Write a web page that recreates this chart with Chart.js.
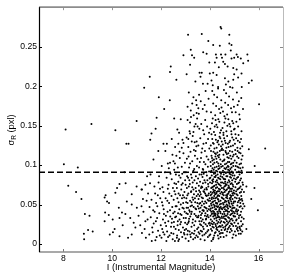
<!DOCTYPE html>
<html>
<head>
<meta charset="utf-8">
<script src="https://cdn.jsdelivr.net/npm/chart.js@4.4.1/dist/chart.umd.min.js"></script>
<style>
  html, body { margin: 0; padding: 0; background: #fff; }
  canvas { display: block; }
</style>
</head>
<body>
<canvas id="myChart" width="287" height="276"></canvas>
<script>
// axis ticks and labels
let xTicks = [8, 10, 12, 14, 16];
let xTickLabels = ['8', '10', '12', '14', '16'];
let yTicks = [0, 0.05, 0.1, 0.15, 0.2, 0.25];
let yTickLabels = ['0', '0.05', '0.1', '0.15', '0.2', '0.25'];
let sigmaCut = 0.091;

// stars as flat [mag, sigma, mag, sigma, ...] lists
let brightStars = [
  8.09,.145, 9.15,.152, 10.13,.144, 11.0,.156, 8.02,.101, 8.59,.097, 8.2,.074, 8.52,.066, 8.74,.057, 8.88,.038,
  9.07,.036, 8.84,.013, 8.85,.006, 9.01,.018, 9.2,.016, 10.58,.127, 10.67,.127, 10.5,.091, 9.69,.059, 9.73,.062,
  9.79,.054, 9.71,.04, 9.87,.052, 10.13,.065, 10.2,.071, 10.3,.076, 10.55,.077, 10.6,.054, 10.8,.063, 11.0,.073,
  11.2,.069, 9.9,.012, 10.03,.015, 10.1,.019, 10.3,.01, 10.4,.04, 10.3,.033, 10.54,.038, 10.74,.033, 10.88,.027,
  11.08,.036, 10.95,.021, 11.15,.024, 10.65,.008, 10.8,.012, 11.22,.014, 10.27,.046, 10.02,.031, 10.43,.024, 9.69,.029,
  9.86,.037, 11.01,.046, 10.8,.05, 11.2,.048, 11.36,.075, 11.22,.069, 11.28,.041, 11.33,.019, 11.41,.055, 11.45,.031,
  11.38,.008, 11.47,.064, 11.26,.057, 11.43,.086, 11.36,.029,
  11.52,.012, 11.58,.034, 11.61,.056, 11.55,.077, 11.64,.021, 11.68,.043, 11.69,.107, 11.73,.073, 11.76,.064, 11.79,.029,
  11.82,.009, 11.85,.048, 11.88,.017, 11.9,.078, 11.93,.039, 11.97,.058, 11.62,.004, 11.7,.026, 11.84,.033, 11.95,.011,
  11.57,.088, 11.8,.052, 11.66,.015, 11.92,.086, 11.99,.024, 11.74,.041, 11.87,.062, 11.53,.047, 11.77,.005, 11.96,.07,
  11.89,.118
];

let band12 = [
  12.03,.099, 12.37,.103, 12.28,.102, 12.1,.066, 12.28,.07, 12.44,.082,
  12.02,.008, 12.05,.019, 12.08,.031, 12.11,.044, 12.04,.053, 12.14,.012, 12.17,.027, 12.2,.036, 12.06,.072, 12.19,.058,
  12.22,.004, 12.25,.016, 12.27,.041, 12.3,.029, 12.23,.084, 12.33,.052, 12.35,.011, 12.38,.035, 12.41,.022, 12.43,.061,
  12.46,.047, 12.48,.006, 12.31,.075, 12.16,.091, 12.39,.089, 12.47,.113, 12.12,.038, 12.21,.023, 12.34,.064, 12.45,.032,
  12.09,.015, 12.26,.055, 12.42,.014, 12.49,.071, 12.18,.118, 12.32,.096, 12.07,.049, 12.29,.009, 12.37,.043, 12.44,.027,
  12.51,.105, 12.55,.077, 12.71,.079,
  12.51,.013, 12.53,.028, 12.56,.041, 12.52,.056, 12.57,.004, 12.6,.019, 12.62,.035, 12.59,.063, 12.64,.048, 12.61,.088,
  12.66,.011, 12.68,.024, 12.65,.071, 12.7,.039, 12.72,.053, 12.69,.097, 12.74,.006, 12.76,.031, 12.73,.018, 12.78,.062,
  12.75,.044, 12.8,.084, 12.77,.109, 12.82,.015, 12.84,.037, 12.79,.025, 12.86,.058, 12.83,.069, 12.88,.046, 12.87,.009,
  12.9,.021, 12.89,.077, 12.93,.033, 12.91,.052, 12.95,.091, 12.94,.014, 12.97,.041, 12.96,.066, 12.99,.027, 12.98,.103,
  12.54,.094, 12.63,.112, 12.67,.058, 12.71,.004, 12.58,.034, 12.85,.098, 12.92,.115, 12.55,.067, 12.81,.05, 12.62,.076,
  12.88,.132, 12.67,.145, 12.95,.059, 12.74,.087, 12.6,.048, 12.79,.038, 12.97,.018, 12.53,.022, 12.84,.075, 12.69,.029,
  12.9,.062, 12.57,.102, 12.76,.117, 12.99,.081, 12.65,.008, 12.93,.045, 12.82,.028, 12.72,.064, 12.87,.089, 12.5,.039,
  12.96,.012
];

let band13 = [
  13.01,.007, 13.03,.019, 13.02,.033, 13.05,.046, 13.04,.058, 13.06,.071, 13.08,.012, 13.07,.025, 13.1,.038, 13.09,.052,
  13.11,.084, 13.13,.004, 13.12,.064, 13.14,.029, 13.16,.043, 13.15,.097, 13.17,.016, 13.19,.055, 13.18,.076, 13.2,.035,
  13.22,.009, 13.21,.048, 13.23,.088, 13.25,.022, 13.24,.067, 13.26,.041, 13.28,.105, 13.27,.014, 13.29,.059, 13.31,.031,
  13.3,.078, 13.32,.006, 13.34,.047, 13.33,.093, 13.36,.024, 13.35,.063, 13.37,.038, 13.39,.112, 13.38,.017, 13.4,.053,
  13.42,.071, 13.41,.029, 13.43,.086, 13.45,.011, 13.44,.044, 13.46,.061, 13.48,.034, 13.47,.099, 13.49,.052, 13.02,.091,
  13.06,.108, 13.1,.017, 13.14,.073, 13.18,.041, 13.21,.117, 13.25,.053, 13.29,.027, 13.33,.069, 13.37,.081, 13.41,.045,
  13.45,.124, 13.04,.039, 13.08,.062, 13.12,.027, 13.16,.081, 13.2,.012, 13.24,.038, 13.28,.072, 13.32,.056, 13.36,.095,
  13.4,.008, 13.44,.067, 13.48,.019, 13.03,.053, 13.07,.086, 13.11,.046, 13.15,.032, 13.19,.102, 13.23,.066, 13.27,.049,
  13.31,.091, 13.35,.013, 13.39,.058, 13.43,.036, 13.47,.077, 13.49,.108, 13.01,.075, 13.13,.111, 13.26,.084, 13.38,.129,
  13.05,.135, 13.17,.143, 13.3,.137, 13.42,.118, 13.09,.157, 13.22,.169, 13.34,.163, 13.44,.182, 13.14,.192, 13.28,.178,
  13.48,.159,
  13.51,.009, 13.53,.021, 13.52,.034, 13.55,.045, 13.54,.057, 13.56,.068, 13.58,.013, 13.57,.029, 13.59,.041, 13.61,.052,
  13.6,.079, 13.62,.006, 13.63,.063, 13.65,.024, 13.64,.037, 13.66,.088, 13.68,.016, 13.67,.049, 13.69,.072, 13.71,.031,
  13.7,.011, 13.72,.058, 13.74,.043, 13.73,.094, 13.75,.019, 13.77,.066, 13.76,.027, 13.78,.081, 13.8,.036, 13.79,.005,
  13.81,.054, 13.83,.046, 13.82,.101, 13.84,.014, 13.86,.071, 13.85,.032, 13.87,.061, 13.89,.023, 13.88,.087, 13.9,.042,
  13.92,.009, 13.91,.056, 13.93,.076, 13.95,.034, 13.94,.018, 13.96,.064, 13.98,.048, 13.97,.092, 13.99,.027, 13.52,.083,
  13.56,.097, 13.6,.025, 13.64,.109, 13.68,.039, 13.72,.077, 13.76,.051, 13.8,.118, 13.84,.062, 13.88,.035, 13.92,.098,
  13.96,.044, 13.54,.015, 13.58,.061, 13.62,.046, 13.66,.029, 13.7,.085, 13.74,.067, 13.78,.012, 13.82,.039, 13.86,.052,
  13.9,.081, 13.94,.073, 13.98,.011, 13.51,.048, 13.55,.074, 13.59,.104, 13.63,.033, 13.67,.059, 13.71,.095, 13.75,.042,
  13.79,.069, 13.83,.025, 13.87,.111, 13.91,.037, 13.95,.055, 13.99,.083, 13.53,.125, 13.61,.134, 13.69,.121, 13.77,.139,
  13.85,.128, 13.93,.133, 13.57,.146, 13.65,.152, 13.73,.144, 13.81,.157, 13.89,.149, 13.97,.141, 13.55,.165, 13.71,.171,
  13.79,.176, 13.87,.168, 13.95,.184, 13.63,.181, 13.83,.194, 13.91,.203, 13.54,.036, 13.57,.051, 13.6,.066, 13.63,.017,
  13.66,.073, 13.69,.054, 13.72,.022, 13.75,.089, 13.78,.047, 13.81,.064, 13.84,.031, 13.87,.045, 13.9,.016, 13.93,.062,
  13.96,.026, 13.99,.058, 13.52,.063, 13.58,.088, 13.64,.071, 13.7,.043, 13.76,.104, 13.82,.078, 13.88,.069, 13.94,.107,
  13.66,.116, 13.86,.091, 13.74,.127, 13.98,.121
];

let band14 = [
  14.02,.012, 14.09,.017, 14.15,.008, 14.21,.014, 14.27,.019, 14.33,.011, 14.38,.016, 14.44,.009, 14.48,.018, 14.05,.019,
  14.13,.006, 14.24,.015, 14.31,.018, 14.41,.013, 14.18,.011, 14.36,.007, 14.46,.014, 14.07,.004,
  14.01,.024, 14.04,.031, 14.08,.038, 14.11,.022, 14.14,.035, 14.17,.027, 14.2,.039, 14.23,.025, 14.26,.033, 14.29,.021,
  14.32,.037, 14.35,.028, 14.38,.034, 14.41,.023, 14.44,.039, 14.47,.029, 14.49,.035, 14.03,.036, 14.06,.026, 14.1,.029,
  14.13,.039, 14.16,.021, 14.19,.032, 14.22,.036, 14.25,.023, 14.28,.03, 14.31,.026, 14.34,.039, 14.37,.022, 14.4,.031,
  14.43,.027, 14.46,.033, 14.12,.025, 14.24,.038, 14.36,.035, 14.45,.022, 14.18,.037, 14.3,.034,
  14.02,.043, 14.05,.051, 14.08,.057, 14.11,.046, 14.14,.054, 14.17,.041, 14.2,.049, 14.23,.058, 14.26,.044, 14.29,.052,
  14.32,.047, 14.35,.056, 14.38,.042, 14.41,.05, 14.44,.055, 14.47,.045, 14.49,.059, 14.01,.055, 14.04,.045, 14.07,.049,
  14.1,.053, 14.13,.042, 14.16,.058, 14.19,.047, 14.22,.044, 14.25,.052, 14.28,.059, 14.31,.041, 14.34,.048, 14.37,.054,
  14.4,.046, 14.43,.041, 14.46,.051, 14.09,.059, 14.15,.05, 14.21,.055, 14.27,.048, 14.33,.057, 14.39,.044, 14.45,.047,
  14.06,.041, 14.3,.051,
  14.03,.062, 14.06,.071, 14.09,.077, 14.12,.065, 14.15,.073, 14.18,.061, 14.21,.068, 14.24,.079, 14.27,.064, 14.3,.072,
  14.33,.067, 14.36,.076, 14.39,.061, 14.42,.069, 14.45,.074, 14.48,.066, 14.01,.078, 14.04,.066, 14.07,.063, 14.1,.072,
  14.13,.079, 14.16,.067, 14.19,.074, 14.22,.063, 14.25,.071, 14.28,.066, 14.31,.078, 14.34,.062, 14.37,.07, 14.4,.075,
  14.43,.064, 14.46,.078, 14.49,.071, 14.14,.069, 14.26,.075, 14.38,.067, 14.2,.065, 14.32,.061,
  14.02,.084, 14.05,.092, 14.08,.087, 14.11,.096, 14.14,.082, 14.17,.089, 14.2,.097, 14.23,.085, 14.26,.093, 14.29,.081,
  14.32,.088, 14.35,.095, 14.38,.083, 14.41,.091, 14.44,.086, 14.47,.098, 14.04,.099, 14.1,.081, 14.16,.094, 14.22,.09,
  14.28,.098, 14.34,.084, 14.4,.096, 14.46,.089, 14.07,.093, 14.19,.085, 14.31,.092, 14.43,.082, 14.25,.087, 14.37,.099,
  14.03,.104, 14.07,.112, 14.11,.106, 14.15,.117, 14.19,.103, 14.23,.111, 14.27,.108, 14.31,.116, 14.35,.102, 14.39,.113,
  14.43,.107, 14.47,.119, 14.05,.118, 14.13,.101, 14.21,.115, 14.29,.104, 14.37,.11, 14.45,.101, 14.09,.109, 14.25,.114,
  14.41,.118, 14.17,.107, 14.33,.112,
  14.04,.125, 14.1,.133, 14.16,.127, 14.22,.138, 14.28,.122, 14.34,.131, 14.4,.136, 14.46,.124, 14.07,.139, 14.19,.121,
  14.31,.129, 14.43,.134, 14.13,.128, 14.25,.132, 14.37,.126, 14.49,.13, 14.02,.146, 14.09,.153, 14.17,.142, 14.24,.157,
  14.31,.148, 14.39,.155, 14.46,.144, 14.12,.159, 14.27,.151, 14.42,.141, 14.2,.149, 14.35,.158, 14.05,.167, 14.14,.178,
  14.22,.163, 14.3,.186, 14.38,.171, 14.47,.182, 14.1,.194, 14.26,.175, 14.43,.166, 14.18,.189, 14.34,.197, 14.48,.173,
  14.53,.014, 14.61,.018, 14.68,.011, 14.74,.019, 14.82,.015, 14.9,.017, 14.97,.012, 14.57,.009, 14.71,.016, 14.86,.019,
  14.64,.019, 14.93,.008,
  14.51,.024, 14.54,.033, 14.57,.028, 14.6,.038, 14.63,.022, 14.66,.031, 14.69,.036, 14.72,.025, 14.75,.034, 14.78,.021,
  14.81,.029, 14.84,.037, 14.87,.026, 14.9,.032, 14.93,.039, 14.96,.023, 14.99,.035, 14.52,.038, 14.55,.021, 14.58,.035,
  14.61,.027, 14.64,.036, 14.67,.024, 14.7,.029, 14.73,.038, 14.76,.027, 14.79,.033, 14.82,.023, 14.85,.031, 14.88,.038,
  14.91,.025, 14.94,.03, 14.97,.036, 14.62,.032,
  14.51,.044, 14.54,.052, 14.57,.057, 14.6,.047, 14.63,.055, 14.66,.042, 14.69,.05, 14.72,.058, 14.75,.045, 14.78,.053,
  14.81,.048, 14.84,.056, 14.87,.043, 14.9,.051, 14.93,.057, 14.96,.046, 14.99,.054, 14.52,.058, 14.55,.046, 14.58,.041,
  14.61,.053, 14.64,.048, 14.67,.059, 14.7,.043, 14.73,.049, 14.76,.055, 14.79,.041, 14.82,.058, 14.85,.047, 14.88,.054,
  14.91,.042, 14.94,.049, 14.97,.052, 14.56,.05, 14.62,.044, 14.68,.054, 14.74,.041, 14.8,.051, 14.86,.059, 14.92,.045,
  14.98,.041, 14.71,.047,
  14.52,.063, 14.55,.071, 14.58,.077, 14.61,.066, 14.64,.074, 14.67,.062, 14.7,.069, 14.73,.078, 14.76,.064, 14.79,.072,
  14.82,.067, 14.85,.076, 14.88,.061, 14.91,.07, 14.94,.075, 14.97,.065, 14.51,.078, 14.54,.065, 14.57,.062, 14.6,.073,
  14.63,.079, 14.66,.068, 14.69,.075, 14.72,.063, 14.75,.071, 14.78,.066, 14.81,.079, 14.84,.062, 14.87,.07, 14.9,.077,
  14.93,.064, 14.96,.073, 14.99,.068, 14.59,.069, 14.65,.076, 14.71,.061, 14.77,.074, 14.83,.07, 14.89,.067, 14.95,.062,
  14.51,.085, 14.54,.093, 14.57,.088, 14.6,.096, 14.63,.082, 14.66,.09, 14.69,.097, 14.72,.086, 14.75,.094, 14.78,.081,
  14.81,.089, 14.84,.095, 14.87,.084, 14.9,.092, 14.93,.087, 14.96,.099, 14.99,.083, 14.53,.099, 14.59,.082, 14.65,.095,
  14.71,.091, 14.77,.098, 14.83,.085, 14.89,.097, 14.95,.09, 14.56,.083, 14.62,.091, 14.68,.086, 14.74,.099, 14.8,.093,
  14.86,.088, 14.92,.081,
  14.52,.105, 14.56,.113, 14.6,.107, 14.64,.118, 14.68,.102, 14.72,.11, 14.76,.115, 14.8,.104, 14.84,.112, 14.88,.108,
  14.92,.117, 14.96,.103, 14.54,.119, 14.62,.101, 14.7,.114, 14.78,.109, 14.86,.101, 14.94,.111, 14.58,.106, 14.66,.116,
  14.74,.104, 14.82,.118, 14.9,.102, 14.98,.113,
  14.53,.126, 14.59,.134, 14.65,.128, 14.71,.137, 14.77,.123, 14.83,.131, 14.89,.139, 14.95,.125, 14.56,.138, 14.68,.122,
  14.8,.129, 14.92,.135, 14.62,.131, 14.74,.127, 14.86,.124, 14.98,.132, 14.5,.121, 14.52,.147, 14.6,.154, 14.68,.143,
  14.76,.158, 14.84,.149, 14.92,.156, 14.99,.145, 14.64,.159, 14.8,.152, 14.56,.141, 14.72,.15, 14.88,.143, 14.96,.153,
  14.54,.168, 14.63,.179, 14.71,.164, 14.79,.187, 14.87,.172, 14.95,.183, 14.58,.195, 14.75,.176, 14.91,.167, 14.67,.191,
  14.83,.199, 14.99,.174, 14.6,.162
];

let band15 = [
  15.03,.016, 15.11,.019, 15.19,.013, 15.26,.018, 15.07,.011, 15.15,.017, 15.23,.02, 15.33,.016,
  15.01,.027, 15.04,.035, 15.07,.023, 15.1,.031, 15.13,.038, 15.16,.026, 15.19,.033, 15.22,.022, 15.25,.037, 15.28,.029,
  15.31,.034, 15.35,.025, 15.02,.039, 15.08,.03, 15.14,.021, 15.2,.036, 15.3,.023, 15.39,.032,
  15.01,.046, 15.04,.054, 15.07,.042, 15.1,.058, 15.13,.049, 15.16,.043, 15.19,.055, 15.22,.047, 15.25,.052, 15.28,.041,
  15.31,.057, 15.34,.045, 15.37,.051, 15.03,.059, 15.09,.044, 15.15,.053, 15.21,.058, 15.27,.048, 15.33,.055, 15.12,.041,
  15.24,.056, 15.42,.048,
  15.02,.064, 15.05,.072, 15.08,.067, 15.11,.076, 15.14,.062, 15.17,.07, 15.2,.078, 15.23,.065, 15.26,.073, 15.29,.061,
  15.32,.069, 15.36,.075, 15.04,.079, 15.1,.063, 15.16,.077, 15.22,.071, 15.28,.066, 15.34,.078, 15.13,.069, 15.4,.066,
  15.01,.087, 15.04,.094, 15.07,.082, 15.1,.091, 15.13,.098, 15.16,.085, 15.19,.092, 15.22,.088, 15.25,.096, 15.28,.083,
  15.31,.09, 15.35,.097, 15.06,.099, 15.12,.084, 15.18,.097, 15.24,.081, 15.3,.093,
  15.02,.106, 15.06,.114, 15.1,.103, 15.14,.118, 15.18,.109, 15.22,.101, 15.26,.115, 15.3,.107, 15.34,.112, 15.04,.119,
  15.12,.111, 15.2,.116, 15.28,.102, 15.03,.127, 15.08,.134, 15.13,.122, 15.18,.138, 15.23,.129, 15.28,.133, 15.33,.124,
  15.05,.139, 15.15,.131, 15.25,.121, 15.02,.146, 15.09,.155, 15.16,.149, 15.23,.158, 15.3,.143, 15.06,.167, 15.14,.176,
  15.21,.164, 15.29,.185, 15.11,.192, 15.19,.181, 15.36,.171
];

let upperTail = [
  11.31,.198, 11.54,.212, 11.91,.186, 12.36,.182, 12.13,.171, 11.82,.160, 12.54,.159, 12.81,.158, 11.78,.146, 11.61,.140,
  12.40,.225, 12.37,.218, 12.63,.208, 12.92,.239, 13.11,.265, 13.22,.246, 13.27,.239, 13.36,.236, 13.19,.227, 13.05,.215,
  13.41,.206, 13.58,.217, 13.62,.212, 13.33,.186, 13.56,.189, 13.09,.174, 13.46,.176, 13.53,.172, 13.46,.166, 13.23,.161,
  13.19,.154, 13.42,.152, 13.5,.149, 11.56,.132, 12.24,.127, 12.44,.133, 12.74,.141, 13.12,.133, 13.19,.14, 13.33,.142,
  13.37,.149, 13.26,.13, 13.46,.13, 12.1,.127, 12.58,.123, 12.71,.127, 12.92,.128, 12.85,.122, 13.12,.123, 13.35,.119,
  13.67,.266, 14.44,.275, 14.47,.273, 14.8,.265, 13.94,.257, 14.14,.252, 14.41,.251, 14.8,.254, 14.89,.252, 13.73,.243,
  13.87,.241, 14.25,.24, 14.46,.24, 14.64,.24, 14.86,.245, 15.1,.24, 15.54,.24, 14.28,.236, 14.5,.236, 15.0,.236,
  13.98,.23, 14.21,.23, 14.55,.231, 14.62,.228, 14.89,.235, 15.27,.235, 15.57,.232, 15.37,.229, 14.37,.224, 14.73,.225,
  14.96,.223, 15.1,.221, 13.67,.217, 14.0,.216, 14.14,.217, 14.28,.214, 15.0,.215, 15.16,.211, 15.3,.216, 14.07,.207,
  14.62,.21, 14.76,.206, 14.96,.208, 15.15,.237, 13.72,.203, 14.12,.201, 14.34,.199, 14.66,.202, 14.93,.198, 15.31,.199,
  15.6,.204
];

let outliers = [
  15.72,.207, 16.02,.177, 16.27,.121, 15.97,.043, 15.83,.071, 15.6,.12, 15.84,.099, 15.5,.073, 15.7,.057, 15.5,.019,
  15.27,.013
];

function toPoints(list) {
  let pts = [];
  for (let i = 0; i < list.length; i += 2) pts.push({ x: list[i], y: list[i + 1] });
  return pts;
}
let allStars = [brightStars, band12, band13, band14, band15, upperTail, outliers].flatMap(toPoints);

let font = "'Liberation Sans', Arial, Helvetica, sans-serif";

// box, inward ticks and axis titles, drawn the MATLAB way
const frame = {
  id: 'frame',
  afterDraw(chart) {
    const { ctx, chartArea: a, scales: { x, y } } = chart;
    const seg = (x1, y1, x2, y2) => { ctx.beginPath(); ctx.moveTo(x1, y1); ctx.lineTo(x2, y2); ctx.stroke(); };
    ctx.save();
    ctx.lineWidth = 1;
    xTicks.forEach(v => {
      let px = Math.round(x.getPixelForValue(v)) + 0.5;
      ctx.strokeStyle = '#777'; seg(px, a.bottom, px, a.bottom - 3);
      ctx.strokeStyle = '#999'; seg(px, a.top, px, a.top + 3);
    });
    yTicks.forEach(v => {
      let py = Math.round(y.getPixelForValue(v)) + 0.5;
      ctx.strokeStyle = '#000'; seg(a.left, py, a.left + 3, py);
      ctx.strokeStyle = '#888'; seg(a.right, py, a.right - 3, py);
    });
    ctx.lineWidth = 1.6;
    ctx.strokeStyle = '#8c8c8c';
    seg(a.left, a.top, a.right, a.top);
    seg(a.left, a.bottom, a.right, a.bottom);
    ctx.lineWidth = 1;
    ctx.strokeStyle = '#bbb';
    seg(a.right + 0.5, a.top, a.right + 0.5, a.bottom);
    ctx.strokeStyle = '#000';
    ctx.lineWidth = 1.2;
    seg(a.left + 0.5, a.top, a.left + 0.5, a.bottom);

    ctx.fillStyle = '#000';
    ctx.font = '9.3px ' + font;
    ctx.textAlign = 'center';
    ctx.textBaseline = 'middle';
    ctx.fillText('I (Instrumental Magnitude)', 161, 267);

    ctx.translate(10.5, 130);
    ctx.rotate(-Math.PI / 2);
    ctx.textAlign = 'left';
    ctx.textBaseline = 'alphabetic';
    let sigma = 'σ', sub = 'R', rest = ' (pxl)';
    ctx.font = '9.3px ' + font;
    let w1 = ctx.measureText(sigma).width, w3 = ctx.measureText(rest).width;
    ctx.font = '6.5px ' + font;
    let w2 = ctx.measureText(sub).width;
    let start = -(w1 + w2 + w3) / 2;
    ctx.font = '9.3px ' + font;
    ctx.fillText(sigma, start, 3.3);
    ctx.font = '6.5px ' + font;
    ctx.fillText(sub, start + w1, 5.6);
    ctx.font = '9.3px ' + font;
    ctx.fillText(rest, start + w1 + w2, 3.3);
    ctx.restore();
  }
};

let ctx = document.getElementById('myChart').getContext('2d');
let myChart = new Chart(ctx, {
  type: 'scatter',
  data: {
    datasets: [
      {
        type: 'line',
        label: 'cut',
        data: [{ x: 7, y: sigmaCut }, { x: 17, y: sigmaCut }],
        borderColor: '#000',
        borderWidth: 1.6,
        borderDash: [6, 3],
        pointRadius: 0,
        fill: false
      },
      {
        label: 'stars',
        data: allStars,
        backgroundColor: '#000',
        borderWidth: 0,
        pointRadius: 1
      }
    ]
  },
  options: {
    responsive: false,
    animation: false,
    devicePixelRatio: 1,
    layout: { padding: { left: 0, right: 3, top: 6, bottom: 0 } },
    plugins: { legend: { display: false }, tooltip: { enabled: false } },
    scales: {
      x: {
        type: 'linear',
        min: 7,
        max: 17,
        afterBuildTicks: s => { s.ticks = xTicks.map(v => ({ value: v })); },
        afterFit: s => { s.height = 24; },
        grid: { display: false, drawTicks: false },
        border: { display: false },
        ticks: {
          autoSkip: false,
          maxRotation: 0,
          padding: 1,
          color: '#000',
          font: { family: font, size: 8.6 },
          callback: (v, i) => xTickLabels[i]
        }
      },
      y: {
        type: 'linear',
        min: -0.01,
        max: 0.3,
        afterBuildTicks: s => { s.ticks = yTicks.map(v => ({ value: v })); },
        afterFit: s => { s.width = 39; },
        grid: { display: false, drawTicks: false },
        border: { display: false },
        ticks: {
          autoSkip: false,
          padding: 2,
          color: '#000',
          font: { family: font, size: 8.6 },
          callback: (v, i) => yTickLabels[i]
        }
      }
    }
  },
  plugins: [frame]
});
</script>
</body>
</html>
